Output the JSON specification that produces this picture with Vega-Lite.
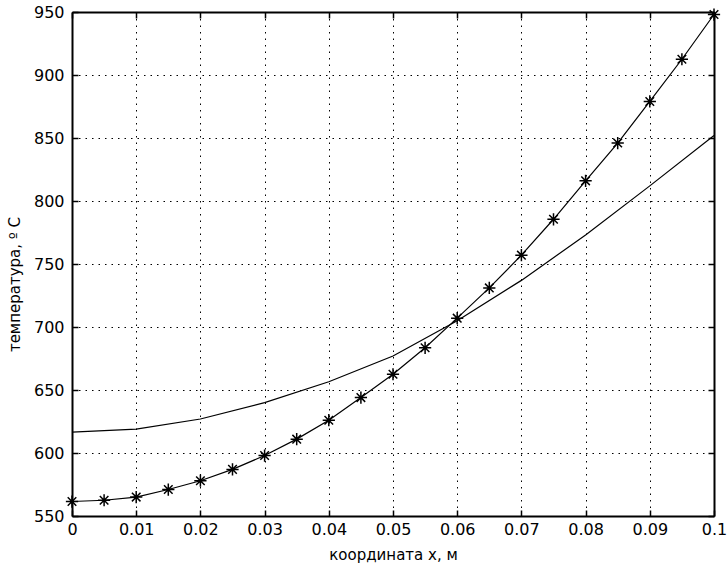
{
  "$schema": "https://vega.github.io/schema/vega-lite/v6.json",
  "width": 642,
  "height": 504,
  "autosize": {"type": "none"},
  "padding": {"left": 72, "top": 12, "right": 14, "bottom": 57},
  "background": "white",
  "config": {
    "view": {"stroke": null},
    "axis": {
      "domainColor": "black",
      "domainWidth": 2,
      "tickColor": "black",
      "tickSize": -6,
      "tickWidth": 1.5,
      "labelFont": "DejaVu Sans",
      "labelFontSize": 16,
      "labelColor": "black",
      "titleFont": "DejaVu Sans",
      "titleFontSize": 15,
      "titleFontWeight": "normal",
      "titleColor": "black",
      "gridColor": "black",
      "gridOpacity": 1,
      "gridDash": [1.5, 5],
      "gridWidth": 1
    }
  },
  "data": {
    "values": [
      {"x": 0, "T": 561.5, "s": "a"},
      {"x": 0.005, "T": 562.5, "s": "a"},
      {"x": 0.01, "T": 565, "s": "a"},
      {"x": 0.015, "T": 571, "s": "a"},
      {"x": 0.02, "T": 578, "s": "a"},
      {"x": 0.025, "T": 587, "s": "a"},
      {"x": 0.03, "T": 598, "s": "a"},
      {"x": 0.035, "T": 611, "s": "a"},
      {"x": 0.04, "T": 626, "s": "a"},
      {"x": 0.045, "T": 644, "s": "a"},
      {"x": 0.05, "T": 662.5, "s": "a"},
      {"x": 0.055, "T": 683.5, "s": "a"},
      {"x": 0.06, "T": 707, "s": "a"},
      {"x": 0.065, "T": 731, "s": "a"},
      {"x": 0.07, "T": 757, "s": "a"},
      {"x": 0.075, "T": 785.5, "s": "a"},
      {"x": 0.08, "T": 816, "s": "a"},
      {"x": 0.085, "T": 846, "s": "a"},
      {"x": 0.09, "T": 879, "s": "a"},
      {"x": 0.095, "T": 912.5, "s": "a"},
      {"x": 0.1, "T": 948, "s": "a"},
      {"x": 0, "T": 616.5, "s": "b"},
      {"x": 0.01, "T": 619, "s": "b"},
      {"x": 0.02, "T": 627, "s": "b"},
      {"x": 0.03, "T": 640, "s": "b"},
      {"x": 0.04, "T": 656.5, "s": "b"},
      {"x": 0.05, "T": 677, "s": "b"},
      {"x": 0.06, "T": 705, "s": "b"},
      {"x": 0.07, "T": 737, "s": "b"},
      {"x": 0.08, "T": 773, "s": "b"},
      {"x": 0.09, "T": 812, "s": "b"},
      {"x": 0.1, "T": 852, "s": "b"}
    ]
  },
  "layer": [
    {
      "mark": {"type": "line", "color": "black", "strokeWidth": 1.2, "clip": false},
      "encoding": {
        "x": {
          "field": "x", "type": "quantitative",
          "scale": {"domain": [0, 0.1], "nice": false, "zero": false},
          "axis": {
            "orient": "bottom",
            "values": [0, 0.01, 0.02, 0.03, 0.04, 0.05, 0.06, 0.07, 0.08, 0.09, 0.1],
            "format": "~g",
            "grid": true,
            "labelPadding": 11,
            "labelFlush": false,
            "labelOverlap": false,
            "title": "координата х, м",
            "titlePadding": 10
          }
        },
        "y": {
          "field": "T", "type": "quantitative",
          "scale": {"domain": [550, 950], "nice": false, "zero": false},
          "axis": {
            "orient": "left",
            "values": [550, 600, 650, 700, 750, 800, 850, 900, 950],
            "grid": true,
            "labelPadding": 14,
            "labelFlush": false,
            "labelOverlap": false,
            "title": "температура, º  С",
            "titleX": -58,
            "titleY": 272,
            "titleAngle": 270,
            "titleAlign": "center",
            "titleBaseline": "middle"
          }
        },
        "detail": {"field": "s"}
      }
    },
    {
      "transform": [{"filter": "datum.s === 'a'"}],
      "mark": {
        "type": "point",
        "shape": "M-1,0L1,0M0,-1L0,1M-0.7,-0.7L0.7,0.7M-0.7,0.7L0.7,-0.7",
        "filled": false,
        "color": "black",
        "strokeWidth": 1.5,
        "size": 150,
        "opacity": 1,
        "clip": false
      },
      "encoding": {
        "x": {
          "field": "x", "type": "quantitative",
          "scale": {"domain": [0, 0.1], "nice": false, "zero": false},
          "axis": {
            "orient": "top",
            "values": [0, 0.01, 0.02, 0.03, 0.04, 0.05, 0.06, 0.07, 0.08, 0.09, 0.1],
            "labels": false,
            "grid": false,
            "title": null
          }
        },
        "y": {
          "field": "T", "type": "quantitative",
          "scale": {"domain": [550, 950], "nice": false, "zero": false},
          "axis": {
            "orient": "right",
            "values": [550, 600, 650, 700, 750, 800, 850, 900, 950],
            "labels": false,
            "grid": false,
            "title": null
          }
        }
      }
    }
  ],
  "resolve": {"axis": {"x": "independent", "y": "independent"}}
}
